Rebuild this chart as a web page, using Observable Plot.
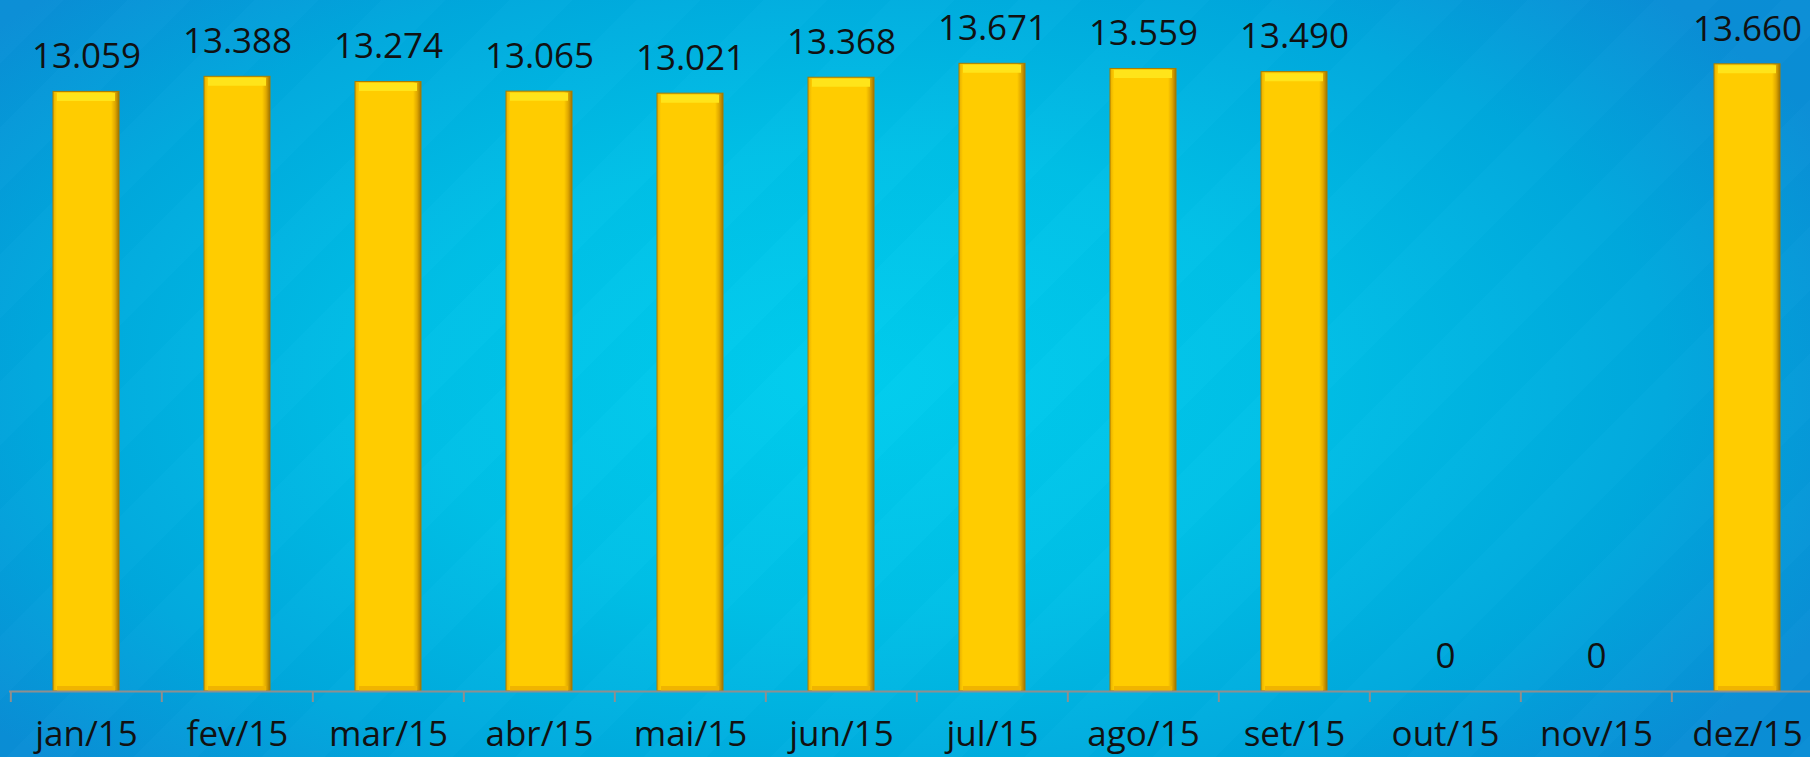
<!DOCTYPE html>
<html>
<head>
<meta charset="utf-8">
<script src="https://cdn.jsdelivr.net/npm/d3@7"></script>
<script src="https://cdn.jsdelivr.net/npm/@observablehq/plot@0.6"></script>
<style>
  html, body { margin: 0; padding: 0; width: 1810px; height: 757px; overflow: hidden; }
  body {
    background:
      repeating-linear-gradient(135deg, rgba(255,255,255,0.012) 0px, rgba(255,255,255,0.012) 45px, rgba(0,0,0,0.008) 45px, rgba(0,0,0,0.008) 90px),
      radial-gradient(ellipse 60% 75% at 47% 50%, #00cdee 0%, #00c0e7 40%, #00a8dd 75%, #0a8ed6 100%);
  }
  #chart svg { display: block; }
</style>
</head>
<body>
<div id="chart"></div>
<script>
const months = ["jan/15","fev/15","mar/15","abr/15","mai/15","jun/15","jul/15","ago/15","set/15","out/15","nov/15","dez/15"];
const values = [13059, 13388, 13274, 13065, 13021, 13368, 13671, 13559, 13490, 0, 0, 13660];

const data = months.map((m, i) => ({month: m, value: values[i]}));
const fmt = v => d3.format(",")(v).replace(/,/g, ".");
const step = (1825 - 9) / months.length;

const chart = Plot.plot({
  width: 1810,
  height: 757,
  marginLeft: 9,
  marginRight: 0,
  marginTop: 0,
  marginBottom: 66,
  style: {background: "transparent", fontFamily: "'Open Sans', 'Noto Sans', sans-serif", fontSize: "35px", color: "#111"},
  x: {domain: months, range: [9, 1825], paddingInner: 0.56, paddingOuter: 0.28, label: null},
  y: {domain: [0, 15000], range: [691, 2.3], axis: null},
  marks: [
    Plot.barY(data.filter(d => d.value > 0), {x: "month", y: "value", fill: "url(#barGrad)", stroke: "#a87c00", strokeWidth: 1}),
    Plot.tickY(data.filter(d => d.value > 0), {x: "month", y: "value", dy: 5, stroke: "#ffe41a", strokeWidth: 8, insetLeft: 4, insetRight: 4}),
    Plot.tickY(data.filter(d => d.value > 0), {x: "month", y: 0, dy: -3, stroke: "#f0b400", strokeWidth: 5, insetLeft: 4, insetRight: 4}),
    Plot.ruleY([0], {stroke: "#8f8f8f", strokeWidth: 2}),
    Plot.axisX({tickSize: 11, tickFormat: () => "", dx: -step / 2, stroke: "#8f8f8f", strokeWidth: 2}),
    Plot.axisX({tickSize: 0, tickPadding: 30, fontSize: 35, fill: "#111"}),
    Plot.text(data, {x: "month", y: "value", text: d => fmt(d.value), dy: -35, fontSize: 35, fill: "#111"})
  ]
});

const defs = document.createElementNS("http://www.w3.org/2000/svg", "defs");
defs.innerHTML = `
  <linearGradient id="barGrad" x1="0" x2="1" y1="0" y2="0">
    <stop offset="0" stop-color="#e6ae00"/>
    <stop offset="0.06" stop-color="#ffcc00"/>
    <stop offset="0.88" stop-color="#ffcc00"/>
    <stop offset="0.94" stop-color="#e0a800"/>
    <stop offset="1" stop-color="#a07400"/>
  </linearGradient>`;
chart.insertBefore(defs, chart.firstChild);
document.getElementById("chart").appendChild(chart);
</script>
</body>
</html>
